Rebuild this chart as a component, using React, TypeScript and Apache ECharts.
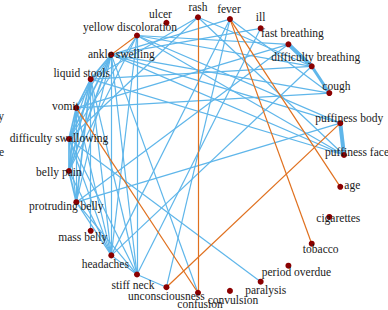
import React, { useEffect, useRef } from 'react';
import * as echarts from 'echarts';

// Nodes in circular order, clockwise starting from the rightmost point
const nodeNames: string[] = [
  'puffiness face', 'age', 'cigarettes', 'tobacco', 'period overdue', 'paralysis',
  'convulsion', 'confusion', 'unconsciousness', 'stiff neck', 'headaches', 'mass belly',
  'protruding belly', 'belly pain', 'difficulty swallowing', 'vomit', 'liquid stools',
  'ankle swelling', 'yellow discoloration', 'ulcer', 'rash', 'fever', 'ill',
  'fast breathing', 'difficulty breathing', 'cough', 'puffiness body',
];

// symptom–symptom associations (blue): [source, target, weight]
const associationLinks: [string, string, number][] = [
  ['ankle swelling', 'liquid stools', 2],
  ['ankle swelling', 'vomit', 1],
  ['ankle swelling', 'difficulty swallowing', 2],
  ['ankle swelling', 'belly pain', 2],
  ['ankle swelling', 'protruding belly', 1],
  ['ankle swelling', 'headaches', 1],
  ['ankle swelling', 'stiff neck', 1],
  ['liquid stools', 'vomit', 2],
  ['liquid stools', 'difficulty swallowing', 1],
  ['liquid stools', 'belly pain', 2],
  ['liquid stools', 'protruding belly', 2],
  ['liquid stools', 'mass belly', 1],
  ['liquid stools', 'headaches', 1],
  ['liquid stools', 'stiff neck', 1],
  ['vomit', 'difficulty swallowing', 2],
  ['vomit', 'belly pain', 2],
  ['vomit', 'protruding belly', 1],
  ['vomit', 'headaches', 1],
  ['difficulty swallowing', 'belly pain', 2],
  ['difficulty swallowing', 'protruding belly', 1],
  ['difficulty swallowing', 'headaches', 1],
  ['difficulty swallowing', 'stiff neck', 1],
  ['belly pain', 'protruding belly', 2],
  ['belly pain', 'headaches', 1],
  ['protruding belly', 'headaches', 1],
  ['protruding belly', 'stiff neck', 1],
  ['headaches', 'stiff neck', 1],
  ['stiff neck', 'unconsciousness', 1],
  ['yellow discoloration', 'difficulty swallowing', 1],
  ['yellow discoloration', 'belly pain', 1],
  ['yellow discoloration', 'headaches', 1],
  ['yellow discoloration', 'stiff neck', 1],
  ['yellow discoloration', 'fast breathing', 1],
  ['yellow discoloration', 'difficulty breathing', 1],
  ['yellow discoloration', 'puffiness body', 1],
  ['yellow discoloration', 'puffiness face', 1],
  ['ankle swelling', 'cough', 1],
  ['ankle swelling', 'puffiness body', 1],
  ['ankle swelling', 'puffiness face', 1],
  ['ankle swelling', 'confusion', 1],
  ['liquid stools', 'difficulty breathing', 1],
  ['liquid stools', 'puffiness face', 1],
  ['vomit', 'fast breathing', 1],
  ['vomit', 'cough', 1],
  ['rash', 'liquid stools', 1],
  ['rash', 'difficulty swallowing', 1],
  ['rash', 'difficulty breathing', 1],
  ['rash', 'puffiness face', 1],
  ['fever', 'ankle swelling', 1],
  ['fever', 'cough', 1],
  ['fever', 'unconsciousness', 1],
  ['fever', 'headaches', 1],
  ['ill', 'ankle swelling', 1],
  ['ill', 'stiff neck', 1],
  ['fast breathing', 'difficulty breathing', 4],
  ['difficulty breathing', 'cough', 3],
  ['fast breathing', 'protruding belly', 1],
  ['difficulty breathing', 'headaches', 1],
  ['puffiness body', 'puffiness face', 4],
  ['protruding belly', 'puffiness body', 1],
  ['difficulty swallowing', 'paralysis', 1],
];

// risk-factor links (orange)
const riskLinks: [string, string][] = [
  ['yellow discoloration', 'ankle swelling'],
  ['vomit', 'confusion'],
  ['rash', 'confusion'],
  ['fever', 'tobacco'],
  ['fever', 'age'],
  ['puffiness body', 'unconsciousness'],
];

// fragments of labels cut off at the left edge
const strayLabels: string[] = ['y', 'e'];

// style: label offsets (px) from each node, in node order
const labelOffsets: [number, number][] = [
  [13, -3], [12, -2], [9, 1], [9, 5], [8, 6], [5, 8], [3, 9], [2, 11], [0, 9],
  [-4, 10], [-6, 9], [-8, 6], [-10, 4], [-10, 1], [-10, -1], [-11, -2], [-9, -6],
  [10, -1], [-7, -8], [-6, -9], [0, -10], [-1, -10], [0, -11], [4, -11], [4, -9],
  [7, -7], [9, -5],
];

const BLUE = '#5fb6ea';
const ORANGE = '#e0701e';
const FONT = 'Liberation Serif';

export default function App() {
  const ref = useRef<HTMLDivElement>(null);
  useEffect(() => {
    document.body.style.margin = '0';
    const chart = echarts.init(ref.current!, undefined, { renderer: 'svg' });
    const n = nodeNames.length;
    const nodes = nodeNames.map((name, i) => ({
      name,
      value: [1, i],
      label: { offset: labelOffsets[i] },
    }));
    const widthFor = (w: number) => (w >= 4 ? 4 : w >= 3 ? 3 : w >= 2 ? 1.7 : 1.2);
    const links = [
      ...associationLinks.map(([s, t, w]) => ({
        source: s, target: t, lineStyle: { color: BLUE, width: widthFor(w) },
      })),
      ...riskLinks.map(([s, t]) => ({
        source: s, target: t, lineStyle: { color: ORANGE, width: 1.2 },
      })),
    ];
    chart.setOption({
      animation: false,
      polar: { center: [206, 155], radius: 138 },
      angleAxis: { type: 'value', min: 0, max: n, startAngle: 0, clockwise: true, show: false },
      radiusAxis: { type: 'value', min: 0, max: 1, show: false },
      graphic: strayLabels.map((t, i) => ({
        type: 'text',
        x: 4,
        y: i === 0 ? 116 : 152,
        style: { text: t, fontFamily: FONT, fontSize: 11.5, fill: '#1a1a1a', align: 'right', verticalAlign: 'middle' },
      })),
      series: [{
        type: 'graph',
        coordinateSystem: 'polar',
        symbol: 'circle',
        symbolSize: 6,
        itemStyle: { color: '#8b0000' },
        label: {
          show: true, position: 'inside', fontFamily: FONT, fontSize: 11.5, color: '#1a1a1a',
        },
        lineStyle: { opacity: 1, curveness: 0 },
        emphasis: { disabled: true },
        data: nodes,
        links,
      }],
    });
    return () => chart.dispose();
  }, []);
  return <div ref={ref} style={{ width: 388, height: 310 }} />;
}
